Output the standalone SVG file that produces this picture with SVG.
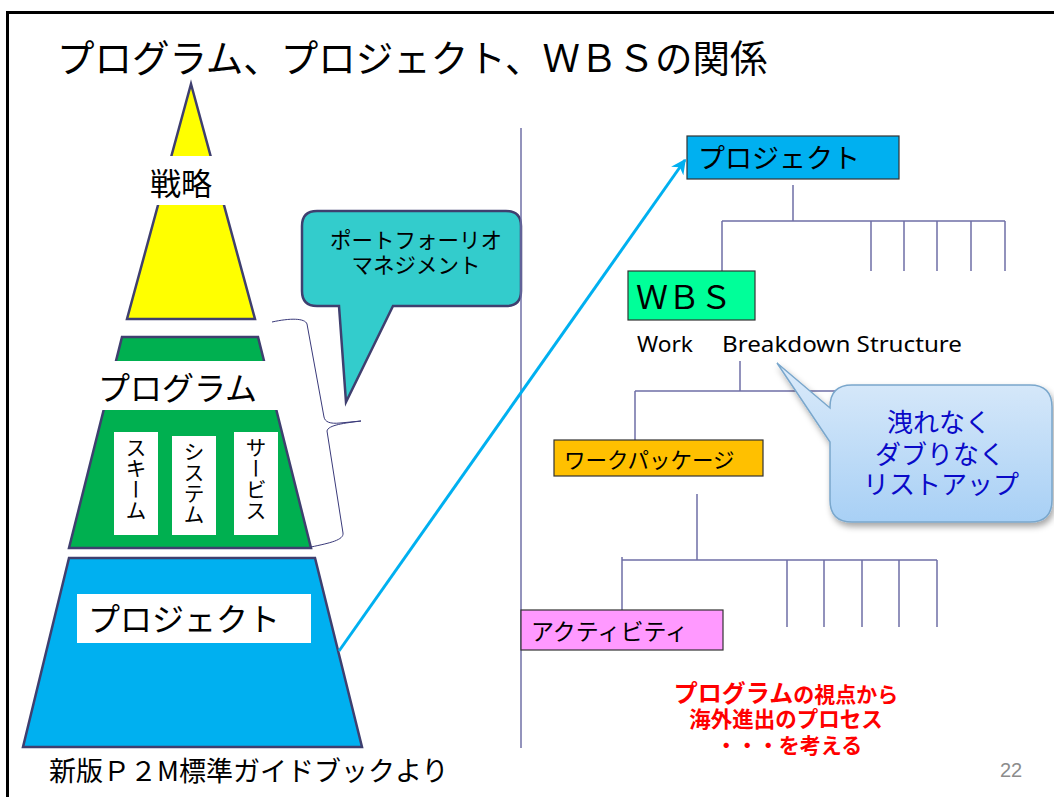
<svg xmlns="http://www.w3.org/2000/svg" width="1054" height="797" viewBox="0 0 1054 797">
<defs>
<style>
.jp{font-family:"Noto Sans CJK JP","Noto Sans CJK SC",sans-serif;fill:#000}
.en{font-family:"Noto Sans","Liberation Sans",sans-serif;fill:#000}
.tree{stroke:#6f6fa6;stroke-width:1.5;fill:none}
.shape{stroke:#3f3f6f;stroke-width:2.5;stroke-linejoin:miter}
.box{stroke:#333;stroke-width:1.2}
.vt{writing-mode:vertical-rl;font-size:21px}
.red{font-family:"Noto Sans CJK JP",sans-serif;fill:#ff0000;font-weight:700;text-anchor:middle}
.blue{font-family:"Noto Sans CJK JP",sans-serif;fill:#0a0ac8;font-size:26px;text-anchor:middle}
</style>
<marker id="arr" viewBox="0 0 10 10" refX="9" refY="5" markerWidth="5" markerHeight="5" orient="auto" markerUnits="strokeWidth">
<path d="M0,0 L10,5 L0,10 L3,5 z" fill="#00b0f0"/>
</marker>
<linearGradient id="lb" x1="0" y1="0" x2="0" y2="1">
<stop offset="0" stop-color="#dcebfa"/>
<stop offset="1" stop-color="#a8d0f5"/>
</linearGradient>
<filter id="sh" x="-10%" y="-10%" width="130%" height="140%">
<feDropShadow dx="2" dy="4" stdDeviation="3" flood-color="#000" flood-opacity="0.35"/>
</filter>
</defs>
<rect width="1054" height="797" fill="#fff"/>
<path d="M7.5,797 V12.5 H1054" fill="none" stroke="#000" stroke-width="3"/>
<text class="jp" x="57" y="72" font-size="37.5">プログラム、プロジェクト、ＷＢＳの関係</text>

<g id="strategy">
<polygon class="shape" points="191,84 255,319 127,319" fill="#ffff00"/>
<rect x="120" y="156" width="145" height="49" fill="#fff"/>
<text class="jp" x="150" y="195" font-size="31">戦略</text>
</g>

<g id="program">
<polygon class="shape" points="122,337 258,337 311,548 69,548" fill="#00b050"/>
<rect x="88" y="361" width="200" height="49" fill="#fff"/>
<text class="jp" x="98" y="400" font-size="32">プログラム</text>
<rect x="114" y="432" width="44" height="103" fill="#fff"/>
<rect x="172" y="436" width="44" height="99" fill="#fff"/>
<rect x="234" y="432" width="44" height="103" fill="#fff"/>
<text class="jp vt" x="136" y="437">スキーム</text>
<text class="jp vt" x="194" y="441">システム</text>
<text class="jp vt" x="256" y="437">サービス</text>
</g>

<g id="project-base">
<polygon class="shape" points="69,558 315,558 362,747 23,747" fill="#00b0f0"/>
<rect x="77" y="594" width="234" height="49" fill="#fff"/>
<text class="jp" x="88" y="631" font-size="32">プロジェクト</text>
</g>

<g id="brace">
<path d="M272,322 C290,318 305,318 307,324 L324,417 C325,422 330,424 340,423 L361,421 C345,423 328,425 327,431 L343,533 C344,540 330,543 311,547" fill="none" stroke="#3a3a7a" stroke-width="1"/>
</g>

<g id="portfolio-callout">
<path class="shape" d="M317,211 H506 Q521,211 521,226 V291 Q521,306 506,306 H393 L346,402 L339,306 H317 Q302,306 302,291 V226 Q302,211 317,211 Z" fill="#33cccc"/>
<text class="jp" x="416" y="248" font-size="21.5" text-anchor="middle">ポートフォーリオ</text>
<text class="jp" x="416" y="273" font-size="21.5" text-anchor="middle">マネジメント</text>
</g>

<g id="connectors">
<line class="tree" x1="521" y1="128" x2="521" y2="748"/>
<path class="tree" d="M793,185 V221 M722,221 H1005 M722,221 V271 M871,221 V271 M904,221 V271 M937,221 V271 M971,221 V271 M1005,221 V271"/>
<path class="tree" d="M740,361 V391 M635,391 H900 M635,391 V440"/>
<path class="tree" d="M697,494 V560 M622,560 H937 M622,557 V610 M787,560 V627 M824,560 V627 M862,560 V627 M899,560 V627 M937,560 V627"/>
<line x1="339" y1="651" x2="685" y2="160" stroke="#00b0f0" stroke-width="3" marker-end="url(#arr)"/>
</g>

<g id="project-box">
<rect class="box" x="687" y="136" width="212" height="43" fill="#00b0f0"/>
<text class="jp" x="698" y="168" font-size="27">プロジェクト</text>
</g>

<g id="wbs-box">
<rect class="box" x="628" y="271" width="127" height="49" fill="#00ff99"/>
<text class="jp" x="636" y="309" font-size="32">ＷＢＳ</text>
<text class="en" x="637" y="352" font-size="22" textLength="56" lengthAdjust="spacingAndGlyphs">Work</text>
<text class="en" x="722" y="352" font-size="22" textLength="240" lengthAdjust="spacingAndGlyphs">Breakdown Structure</text>
</g>

<g id="workpackage-box">
<rect class="box" x="554" y="440" width="209" height="36" fill="#ffc000"/>
<text class="jp" x="564" y="468" font-size="21.5">ワークパッケージ</text>
</g>

<g id="activity-box">
<rect class="box" x="521" y="610" width="202" height="40" fill="#ff99ff"/>
<text class="jp" x="531" y="640" font-size="23">アクティビティ</text>
</g>

<g id="mece-callout">
<path d="M852,385 H1030 Q1052,385 1052,407 V500 Q1052,522 1030,522 H852 Q830,522 830,500 V442 L777,363 L830,408 V407 Q830,385 852,385 Z" fill="url(#lb)" stroke="#7aa7cc" stroke-width="1.5" filter="url(#sh)"/>
<text class="blue" x="939" y="432">洩れなく</text>
<text class="blue" x="940" y="464">ダブりなく</text>
<text class="blue" x="941" y="494">リストアップ</text>
</g>

<g id="note">
<text class="red" x="786" y="702"><tspan font-size="24">プログラム</tspan><tspan font-size="21">の視点から</tspan></text>
<text class="red" x="786" y="727" font-size="21.5">海外進出のプロセス</text>
<text class="red" x="789" y="753" font-size="21">・・・を考える</text>
</g>

<text class="jp" x="49" y="781" font-size="27">新版Ｐ２M標準ガイドブックより</text>
<text x="1000" y="777" font-family="Liberation Sans, sans-serif" font-size="20" fill="#8c8c8c">22</text>
</svg>
